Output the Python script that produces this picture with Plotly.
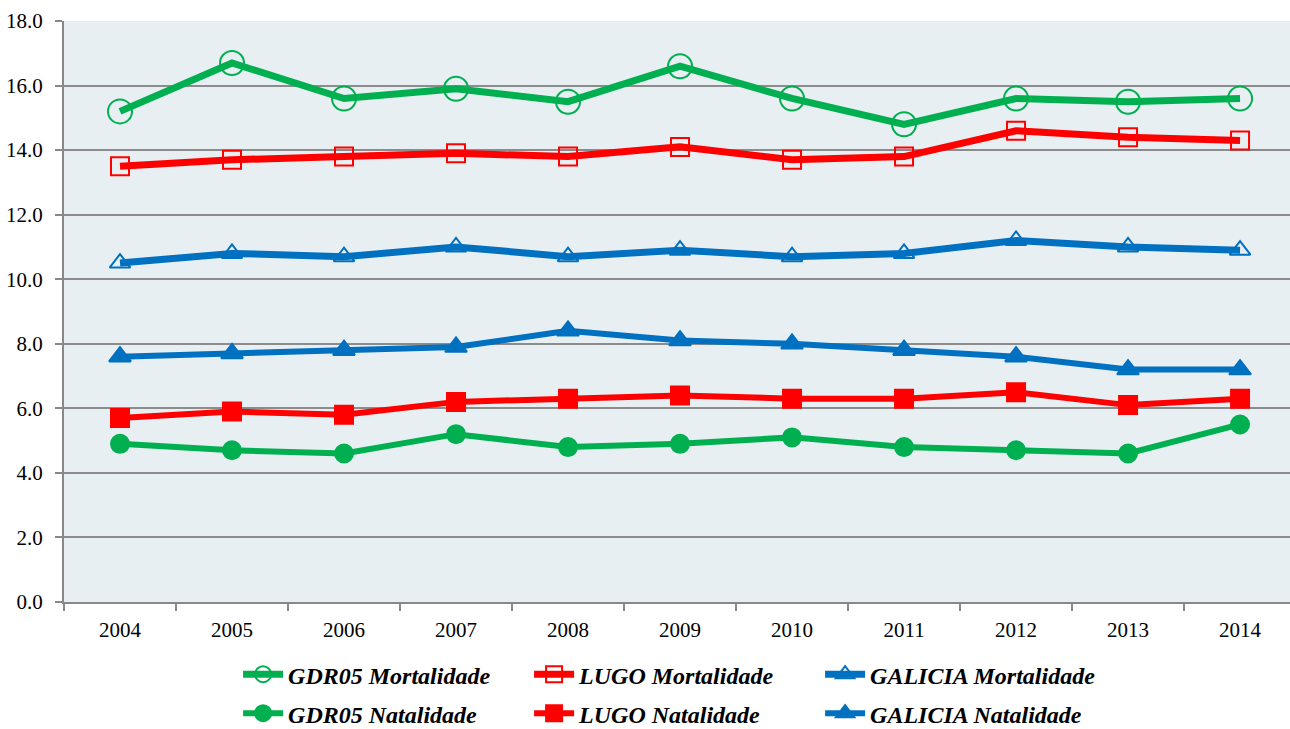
import plotly.graph_objects as go

years = ["2004", "2005", "2006", "2007", "2008", "2009", "2010", "2011", "2012", "2013", "2014"]
gdr05_mort = [15.2, 16.7, 15.6, 15.9, 15.5, 16.6, 15.6, 14.8, 15.6, 15.5, 15.6]
lugo_mort = [13.5, 13.7, 13.8, 13.9, 13.8, 14.1, 13.7, 13.8, 14.6, 14.4, 14.3]
galicia_mort = [10.5, 10.8, 10.7, 11.0, 10.7, 10.9, 10.7, 10.8, 11.2, 11.0, 10.9]
gdr05_nat = [4.9, 4.7, 4.6, 5.2, 4.8, 4.9, 5.1, 4.8, 4.7, 4.6, 5.5]
lugo_nat = [5.7, 5.9, 5.8, 6.2, 6.3, 6.4, 6.3, 6.3, 6.5, 6.1, 6.3]
galicia_nat = [7.6, 7.7, 7.8, 7.9, 8.4, 8.1, 8.0, 7.8, 7.6, 7.2, 7.2]

GREEN = "#00B050"
RED = "#FF0000"
BLUE = "#0070C0"
SERIF = "Liberation Serif"

xs = list(range(len(years)))

series = [
    ("GDR05 Mortalidade", gdr05_mort, GREEN, "circle-open", 24, 7, "legend"),
    ("LUGO Mortalidade", lugo_mort, RED, "square-open", 18, 7, "legend"),
    ("GALICIA Mortalidade", galicia_mort, BLUE, "triangle-up-open", 18, 7, "legend"),
    ("GDR05 Natalidade", gdr05_nat, GREEN, "circle", 18, 6, "legend2"),
    ("LUGO Natalidade", lugo_nat, RED, "square", 18, 6, "legend2"),
    ("GALICIA Natalidade", galicia_nat, BLUE, "triangle-up", 19, 6, "legend2"),
]

fig = go.Figure()
for name, vals, color, sym, size, lw, lg in series:
    fig.add_trace(go.Scatter(
        x=xs, y=vals, name=name, mode="lines+markers", legend=lg,
        line=dict(color=color, width=lw),
        marker=dict(symbol=sym, size=size, color=color,
                    line=dict(color=color, width=2)),
    ))

legend_common = dict(
    orientation="h", xanchor="left", yanchor="middle",
    entrywidth=236, entrywidthmode="pixels",
    font=dict(family=SERIF, size=24, color="black", style="italic", weight="bold"),
    itemwidth=40, bgcolor="rgba(0,0,0,0)",
)

fig.update_layout(
    width=1290, height=729,
    margin=dict(l=64, r=0, t=21, b=127, autoexpand=False),
    paper_bgcolor="white",
    plot_bgcolor="#E8EFF3",
    font=dict(family=SERIF, size=21, color="black"),
    showlegend=True,
    legend=dict(x=0.142, y=-0.125, **legend_common),
    legend2=dict(x=0.142, y=-0.192, **legend_common),
)

fig.update_xaxes(
    range=[-0.5, 10.446], tickmode="array", tickvals=xs, ticktext=years,
    ticks="", showgrid=False, zeroline=False,
    showline=True, linecolor="#888888", linewidth=2,
    minor=dict(tickmode="array", tickvals=[i - 0.5 for i in range(len(years) + 1)],
               ticks="outside", ticklen=7, tickcolor="#888888", tickwidth=2, showgrid=False),
    tickfont=dict(family=SERIF, size=21),
    ticklabelstandoff=8,
)
fig.update_yaxes(
    range=[0, 18], dtick=2, tick0=0, tickformat=".1f",
    showgrid=True, gridcolor="#8C8C8C", gridwidth=2, zeroline=False,
    showline=True, linecolor="#888888", linewidth=2,
    ticks="outside", ticklen=7, tickcolor="#888888", tickwidth=2,
    tickfont=dict(family=SERIF, size=21),
    ticklabelstandoff=8,
)

fig.write_html("out.html", config={"displayModeBar": False},
               post_script="document.body.style.margin='0';document.body.style.overflow='hidden';")
